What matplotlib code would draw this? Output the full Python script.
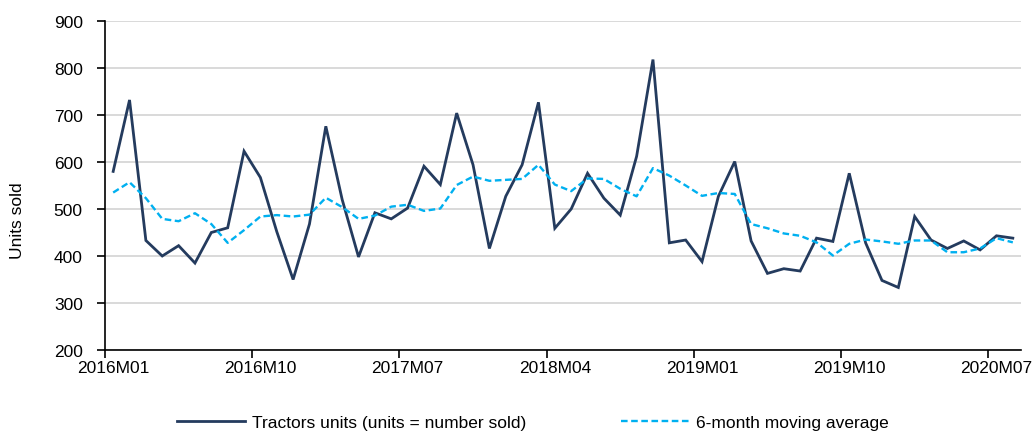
import matplotlib
matplotlib.use("Agg")
import matplotlib.pyplot as plt
import numpy as np

plt.rcParams['font.family'] = ['Liberation Sans', 'DejaVu Sans']

tick_labels = ["2016M01", "2016M10", "2017M07", "2018M04", "2019M01", "2019M10", "2020M07"]

tractors = [580, 732, 433, 400, 422, 385, 450, 460,
            623, 567, 452, 350, 468, 676, 520, 398,
            492, 479, 502, 591, 552, 704, 594, 416,
            527, 594, 727, 459, 500, 576, 523, 487,
            612, 818, 428, 434, 388, 527, 601, 432,
            363, 373, 368, 438, 431, 576, 428, 348,
            333, 484, 434, 416, 432, 413, 443, 438]

moving_avg = [535, 557, 523, 479, 474, 491, 468, 428,
              455, 484, 487, 484, 488, 524, 504, 479,
              486, 505, 509, 496, 501, 551, 569, 560,
              562, 564, 594, 552, 538, 565, 564, 543,
              527, 587, 571, 550, 528, 534, 532, 468,
              459, 448, 443, 429, 401, 426, 435, 431,
              426, 433, 433, 408, 408, 416, 438, 429]

W, H = 1033, 435
fig = plt.figure(figsize=(W / 100, H / 100), dpi=100)
ax = fig.add_axes([105 / W, (H - 351) / H, (1021 - 105) / W, (351 - 22) / H])

x = np.arange(len(tractors))
l1, = ax.plot(x, tractors, color="#243b5e", lw=2.0, solid_joinstyle="miter",
              label="Tractors units (units = number sold)")
l2, = ax.plot(x, moving_avg, color="#00b0f0", lw=1.7, dashes=(2.8, 1.5),
              label="6-month moving average")

ax.set_xlim(-0.5, len(tractors) - 0.5)
ax.set_ylim(200, 900)
ax.set_yticks(np.arange(200, 901, 100))
ax.grid(axis="y", color="#d9d9d9", lw=1.4)
ax.set_axisbelow(True)

# ticks at category boundaries, labels at category centres
step = 9
ax.set_xticks(np.arange(len(tick_labels)) * step - 0.5)
ax.set_xticklabels([])
ax.set_xticks(np.arange(len(tick_labels)) * step, minor=True)
ax.set_xticklabels(tick_labels, minor=True)
ax.tick_params(axis="x", which="major", direction="out", length=6, width=1.2, color="black")
ax.tick_params(axis="x", which="minor", length=0, pad=7, labelsize=12.5)
ax.tick_params(axis="y", direction="out", length=6, width=1.2, pad=10, labelsize=12.5)

for s in ["top", "right"]:
    ax.spines[s].set_visible(False)
for s in ["left", "bottom"]:
    ax.spines[s].set_color("black")
    ax.spines[s].set_linewidth(1.2)

fig.text(18 / W, (H - 221) / H, "Units sold", rotation=90, ha="center", va="center", fontsize=12.5)

fig.legend(handles=[l1, l2], loc="center", bbox_to_anchor=(533 / W, (H - 423) / H),
           ncol=2, frameon=False, fontsize=12.5, handlelength=3.9, handletextpad=0.42,
           columnspacing=5.45, borderpad=0)

fig.savefig("out.png", dpi=100)
